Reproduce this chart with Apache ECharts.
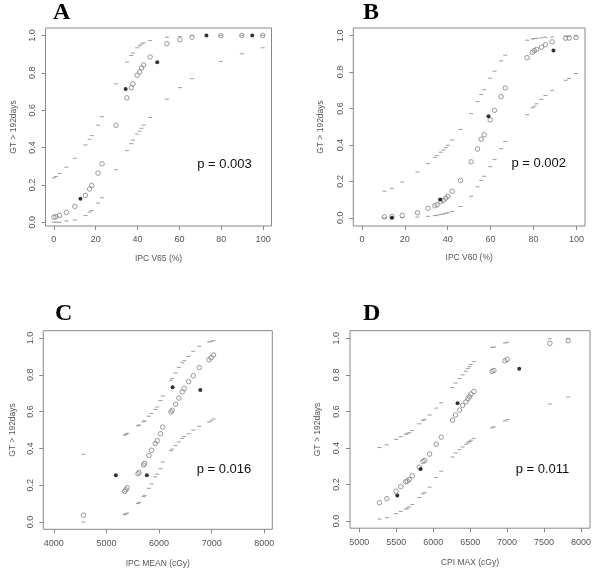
<!DOCTYPE html>
<html><head><meta charset="utf-8">
<script src="https://cdn.jsdelivr.net/npm/echarts@6/dist/echarts.min.js"></script>
<style>html,body{margin:0;padding:0;background:#fff}#c{width:600px;height:572px}</style>
</head><body><div id="c"></div>
<script>
// ---- Panel A: IPC V65 (%) ----
const xA = [0, 1, 2.7, 6, 10, 15.1, 17.1, 18.1, 21.1, 23, 29.7, 34.9, 37, 37.8, 39.8, 41, 41.9, 42.9, 46, 54, 60.2, 66, 79.8, 89.8, 99.8];
const fitA = [0.027, 0.03, 0.037, 0.053, 0.085, 0.144, 0.178, 0.197, 0.263, 0.313, 0.519, 0.666, 0.72, 0.741, 0.787, 0.805, 0.826, 0.842, 0.885, 0.956, 0.977, 0.991, 0.999, 1.0, 1.0];
const upA = [0.238, 0.245, 0.261, 0.295, 0.343, 0.414, 0.444, 0.464, 0.52, 0.565, 0.741, 0.858, 0.893, 0.906, 0.934, 0.945, 0.954, 0.961, 0.973, 0.99, 0.995, 0.998, 1.0, 1.0, 1.0];
const loA = [0.0, 0.0, 0.0, 0.007, 0.012, 0.036, 0.055, 0.062, 0.103, 0.131, 0.281, 0.384, 0.421, 0.44, 0.472, 0.488, 0.503, 0.52, 0.561, 0.659, 0.721, 0.769, 0.861, 0.902, 0.934];
const obsXA = [12.7, 34.3, 49.4, 72.9, 94.8];
const obsYA = [0.126, 0.714, 0.856, 1.0, 1.0];

// ---- Panel B: IPC V60 (%) ----
const xB = [10.5, 14, 18.8, 25.9, 30.8, 34, 35, 36.8, 38, 39.1, 40.1, 42.1, 46, 50.9, 53.9, 55.6, 57, 59.8, 61.8, 64.9, 66.8, 77, 79.5, 80.4, 81.5, 83.7, 85.6, 88.7, 95, 96.6, 99.8];
const fitB = [0.005, 0.007, 0.013, 0.028, 0.052, 0.066, 0.072, 0.088, 0.096, 0.108, 0.118, 0.146, 0.205, 0.307, 0.378, 0.431, 0.456, 0.538, 0.59, 0.665, 0.713, 0.879, 0.909, 0.918, 0.925, 0.937, 0.95, 0.966, 0.986, 0.987, 0.99];
const upB = [0.146, 0.162, 0.197, 0.251, 0.297, 0.332, 0.342, 0.36, 0.372, 0.385, 0.398, 0.427, 0.485, 0.572, 0.638, 0.677, 0.703, 0.766, 0.805, 0.862, 0.893, 0.975, 0.982, 0.984, 0.986, 0.988, 0.991, 0.993, 0.997, 0.998, 0.999];
const loB = [0.0, 0.0, 0.001, 0.004, 0.008, 0.012, 0.014, 0.018, 0.021, 0.025, 0.028, 0.035, 0.062, 0.118, 0.17, 0.205, 0.228, 0.281, 0.32, 0.38, 0.419, 0.566, 0.604, 0.613, 0.626, 0.65, 0.672, 0.7, 0.755, 0.765, 0.792];
const obsXB = [14, 36.5, 59, 89.3];
const obsYB = [0.0, 0.101, 0.557, 0.918];

// ---- Panel C: IPC MEAN (cGy) ----
const xC = [4564, 5345, 5370, 5395, 5600, 5620, 5705, 5725, 5807, 5857, 5927, 5965, 6028, 6070, 6225, 6250, 6314, 6377, 6440, 6478, 6561, 6650, 6764, 6948, 6990, 7036];
const fitC = [0.036, 0.166, 0.175, 0.186, 0.262, 0.27, 0.31, 0.318, 0.362, 0.39, 0.426, 0.442, 0.48, 0.516, 0.598, 0.607, 0.64, 0.674, 0.707, 0.726, 0.763, 0.795, 0.839, 0.882, 0.893, 0.908];
const upC = [0.368, 0.472, 0.476, 0.482, 0.523, 0.527, 0.545, 0.55, 0.575, 0.59, 0.612, 0.625, 0.66, 0.685, 0.77, 0.78, 0.81, 0.84, 0.866, 0.877, 0.9, 0.928, 0.955, 0.978, 0.982, 0.986];
const loC = [0.0, 0.04, 0.044, 0.048, 0.1, 0.106, 0.138, 0.145, 0.183, 0.207, 0.245, 0.26, 0.29, 0.326, 0.388, 0.396, 0.415, 0.435, 0.455, 0.465, 0.48, 0.5, 0.52, 0.543, 0.55, 0.56];
const obsXC = [5178, 5768, 6257, 6784];
const obsYC = [0.254, 0.254, 0.732, 0.717];

// ---- Panel D: CPI MAX (cGy) ----
const xD = [5273, 5372, 5498, 5561, 5627, 5649, 5676, 5717, 5812, 5861, 5884, 5951, 6041, 6109, 6262, 6303, 6357, 6398, 6443, 6470, 6490, 6510, 6550, 6796, 6822, 6971, 7003, 7579, 7827];
const fitD = [0.1, 0.122, 0.163, 0.188, 0.214, 0.218, 0.227, 0.247, 0.294, 0.325, 0.331, 0.366, 0.42, 0.459, 0.552, 0.58, 0.607, 0.633, 0.652, 0.67, 0.68, 0.695, 0.709, 0.819, 0.824, 0.877, 0.885, 0.973, 0.987];
const upD = [0.402, 0.417, 0.446, 0.461, 0.475, 0.479, 0.483, 0.495, 0.532, 0.55, 0.556, 0.58, 0.618, 0.647, 0.731, 0.755, 0.78, 0.8, 0.82, 0.835, 0.845, 0.857, 0.873, 0.95, 0.953, 0.975, 0.978, 0.998, 0.999];
const loD = [0.01, 0.018, 0.04, 0.052, 0.065, 0.07, 0.077, 0.09, 0.128, 0.148, 0.155, 0.185, 0.238, 0.272, 0.35, 0.372, 0.39, 0.405, 0.42, 0.428, 0.435, 0.442, 0.452, 0.51, 0.515, 0.548, 0.555, 0.64, 0.678];
const obsXD = [5514, 5830, 6330, 7164];
const obsYD = [0.139, 0.285, 0.645, 0.834];

// ---- tick labels ----
const ticksPct = [0, 20, 40, 60, 80, 100];
const ticksC = [4000, 5000, 6000, 7000, 8000];
const ticksD = [5000, 5500, 6000, 6500, 7000, 7500, 8000];
const ticksY = [0, 0.2, 0.4, 0.6, 0.8, 1.0];

const panels = [
  {x: xA, fit: fitA, up: upA, lo: loA, ox: obsXA, oy: obsYA, xt: ticksPct, xname: 'IPC V65 (%)', letter: 'A', p: 'p = 0.003',
   grid: {left: 45.5, top: 28, width: 226, height: 198}, xr: [-4, 104], yr: [-0.02, 1.04],
   letterPos: [53, 12.7], pPos: [224.5, 164], xGap: 28, yGap: 27.5},
  {x: xB, fit: fitB, up: upB, lo: loB, ox: obsXB, oy: obsYB, xt: ticksPct, xname: 'IPC V60 (%)', letter: 'B', p: 'p = 0.002',
   grid: {left: 353.3, top: 28, width: 231.7, height: 198}, xr: [-4, 104], yr: [-0.045, 1.042],
   letterPos: [363, 12.7], pPos: [538.7, 163.3], xGap: 27.5, yGap: 28.5},
  {x: xC, fit: fitC, up: upC, lo: loC, ox: obsXC, oy: obsYC, xt: ticksC, xname: 'IPC MEAN (cGy)', letter: 'C', p: 'p = 0.016',
   grid: {left: 43.3, top: 330.7, width: 229, height: 198.6}, xr: [3800, 8152], yr: [-0.04, 1.04],
   letterPos: [55, 314], pPos: [224, 469], xGap: 29.5, yGap: 26},
  {x: xD, fit: fitD, up: upD, lo: loD, ox: obsXD, oy: obsYD, xt: ticksD, xname: 'CPI MAX (cGy)', letter: 'D', p: 'p = 0.011',
   grid: {left: 350, top: 330.7, width: 240, height: 197.5}, xr: [4874, 8122], yr: [-0.04, 1.042],
   letterPos: [363, 314], pPos: [542.5, 469], xGap: 29.5, yGap: 28}
];

const txt = '#555';
const grids = [], xAxes = [], yAxes = [], series = [], graphics = [];
panels.forEach((p, i) => {
  grids.push(Object.assign({show: true, borderColor: '#888', borderWidth: 1, backgroundColor: 'transparent'}, p.grid));
  xAxes.push({
    gridIndex: i, type: 'value', min: p.xr[0], max: p.xr[1],
    name: p.xname, nameLocation: 'middle', nameGap: p.xGap,
    nameTextStyle: {color: txt, fontSize: 8.5, fontFamily: 'Liberation Sans'},
    axisLine: {show: false, onZero: false},
    axisTick: {show: true, length: 4, customValues: p.xt, lineStyle: {color: '#888'}},
    axisLabel: {customValues: p.xt, color: txt, fontSize: 9, fontFamily: 'Liberation Sans', margin: 9.5,
      formatter: v => String(v)},
    splitLine: {show: false}
  });
  yAxes.push({
    gridIndex: i, type: 'value', min: p.yr[0], max: p.yr[1],
    name: 'GT > 192days', nameLocation: 'middle', nameGap: p.yGap,
    nameTextStyle: {color: txt, fontSize: 8.5, fontFamily: 'Liberation Sans'},
    axisLine: {show: false, onZero: false},
    axisTick: {show: true, length: 4, customValues: ticksY, lineStyle: {color: '#888'}},
    axisLabel: {customValues: ticksY, rotate: 90, color: txt, fontSize: 9, fontFamily: 'Liberation Sans', margin: 8.5,
      formatter: v => v.toFixed(1)},
    splitLine: {show: false}
  });
  const pair = (xs, ys) => xs.map((x, k) => [x, ys[k]]);
  series.push({type: 'scatter', xAxisIndex: i, yAxisIndex: i, symbol: 'rect', symbolSize: [4, 1.1],
    itemStyle: {color: '#8f8f8f'}, data: pair(p.x, p.up), z: 2});
  series.push({type: 'scatter', xAxisIndex: i, yAxisIndex: i, symbol: 'rect', symbolSize: [4, 1.1],
    itemStyle: {color: '#8f8f8f'}, data: pair(p.x, p.lo), z: 2});
  series.push({type: 'scatter', xAxisIndex: i, yAxisIndex: i, symbol: 'circle', symbolSize: 4.5,
    itemStyle: {color: 'rgba(255,255,255,0)', borderColor: '#7f7f7f', borderWidth: 1}, data: pair(p.x, p.fit), z: 3});
  series.push({type: 'scatter', xAxisIndex: i, yAxisIndex: i, symbol: 'circle', symbolSize: 4,
    itemStyle: {color: '#000'}, data: pair(p.ox, p.oy), z: 4});
  graphics.push({type: 'text', left: p.letterPos[0], top: p.letterPos[1] - 12, style: {
    text: p.letter, font: 'bold 24px "Liberation Serif"', fill: '#000'}});
  graphics.push({type: 'text', x: p.pPos[0], y: p.pPos[1], style: {
    text: p.p, font: '13px "Liberation Sans"', fill: '#111', textAlign: 'center', textVerticalAlign: 'middle'}});
});

const chart = echarts.init(document.getElementById('c'), null, {renderer: 'canvas'});
chart.setOption({
  animation: false,
  backgroundColor: '#fff',
  grid: grids, xAxis: xAxes, yAxis: yAxes, series: series, graphic: graphics
});
</script></body></html>
